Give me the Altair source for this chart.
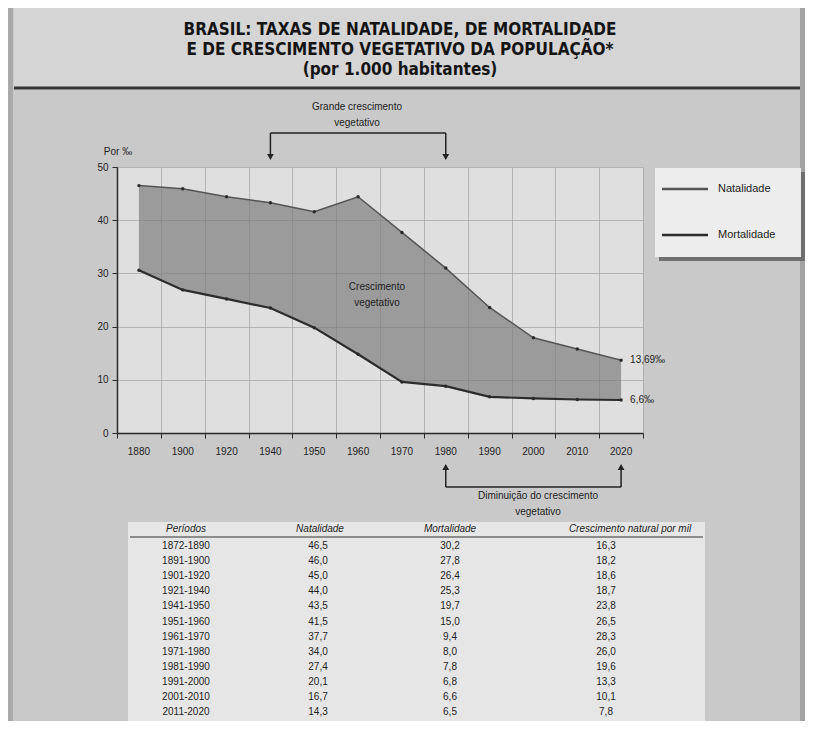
import altair as alt
import pandas as pd

# ---------------- data ----------------
anos = ["1880", "1900", "1920", "1940", "1950", "1960", "1970", "1980", "1990", "2000", "2010", "2020"]
natalidade = [46.5, 45.9, 44.4, 43.3, 41.6, 44.4, 37.7, 31.0, 23.6, 17.9, 15.8, 13.69]
mortalidade = [30.6, 26.9, 25.2, 23.5, 19.8, 14.8, 9.6, 8.8, 6.8, 6.5, 6.3, 6.2]
rotulos_finais = ["13,69‰", "6,6‰"]

titulo = ["BRASIL: TAXAS DE NATALIDADE, DE MORTALIDADE",
          "E DE CRESCIMENTO VEGETATIVO DA POPULAÇÃO*",
          "(por 1.000 habitantes)"]

cabecalho = ["Períodos", "Natalidade", "Mortalidade", "Crescimento natural por mil"]
periodos = ["1872-1890", "1891-1900", "1901-1920", "1921-1940", "1941-1950", "1951-1960",
            "1961-1970", "1971-1980", "1981-1990", "1991-2000", "2001-2010", "2011-2020"]
tab_natalidade = ["46,5", "46,0", "45,0", "44,0", "43,5", "41,5", "37,7", "34,0", "27,4", "20,1", "16,7", "14,3"]
tab_mortalidade = ["30,2", "27,8", "26,4", "25,3", "19,7", "15,0", "9,4", "8,0", "7,8", "6,8", "6,6", "6,5"]
tab_crescimento = ["16,3", "18,2", "18,6", "18,7", "23,8", "26,5", "28,3", "26,0", "19,6", "13,3", "10,1", "7,8"]

# ---------------- layout ----------------
W, H = 526, 266
PAD_L, PAD_T = 109, 159
TOTAL_W, TOTAL_H = 797, 713
FONT = "Liberation Sans"
INK = "#1e1e1e"

n = len(anos)
serie = pd.DataFrame({"i": list(range(n)), "ano": anos, "nat": natalidade, "mort": mortalidade})
longo = pd.DataFrame({
    "i": list(range(n)) * 2,
    "v": natalidade + mortalidade,
    "s": ["Natalidade"] * n + ["Mortalidade"] * n,
})
fim = pd.DataFrame({"i": [n - 1, n - 1], "v": [natalidade[-1], mortalidade[-1]], "t": rotulos_finais})
um = pd.DataFrame({"d": [0]})

xs = alt.Scale(domain=[-0.5, n - 0.5], nice=False, zero=False)
ys = alt.Scale(domain=[0, 50], nice=False, zero=True)
limites = [k - 0.5 for k in range(n + 1)]

x_axis = alt.Axis(values=limites, labels=False, ticks=True, tickSize=5, tickColor="#2a2a2a",
                  domainColor="#2a2a2a", domainWidth=1.5, grid=True, gridColor="#a8a8a8",
                  gridWidth=0.8, title=None)
y_axis = alt.Axis(values=[0, 10, 20, 30, 40, 50], tickSize=5, tickColor="#2a2a2a", labelPadding=4,
                  labelFont=FONT, labelFontSize=10, labelColor=INK, domainColor="#2a2a2a",
                  domainWidth=1.5, grid=True, gridColor="#a8a8a8", gridWidth=0.8, title=None)


def X(field):
    return alt.X(field, scale=xs, axis=x_axis)


def Y(field):
    return alt.Y(field, scale=ys, axis=y_axis)


def rect(x1, x2, y1, y2, color, **kw):
    return alt.Chart(um).mark_rect(color=color, **kw).encode(
        x=alt.value(x1), x2=alt.value(x2), y=alt.value(y1), y2=alt.value(y2))


def rule(x1, x2, y1, y2, color, w=1.0):
    return alt.Chart(um).mark_rule(color=color, strokeWidth=w).encode(
        x=alt.value(x1), x2=alt.value(x2), y=alt.value(y1), y2=alt.value(y2))


def texto(x, y, s, size=10, **kw):
    kw.setdefault("font", FONT)
    kw.setdefault("color", INK)
    return alt.Chart(um).mark_text(fontSize=size, **kw).encode(
        x=alt.value(x), y=alt.value(y), text=alt.value(s))


camadas = []

# area + axes (first, so axes belong to it)
area = alt.Chart(serie).mark_area(color="#7d7d7d", opacity=0.7).encode(
    x=X("i:Q"), y=Y("nat:Q"), y2="mort:Q")
camadas.append(area)

linhas = alt.Chart(longo).mark_line().encode(
    x=X("i:Q"), y=Y("v:Q"),
    color=alt.Color("s:N", scale=alt.Scale(domain=["Natalidade", "Mortalidade"],
                                           range=["#555555", "#2c2c2c"]), legend=None),
    strokeWidth=alt.StrokeWidth("s:N", scale=alt.Scale(domain=["Natalidade", "Mortalidade"],
                                                       range=[1.5, 2.2]), legend=None),
)
camadas.append(linhas)

pontos = alt.Chart(longo).mark_circle(size=12, color="#2a2a2a", opacity=1).encode(
    x=X("i:Q"), y=Y("v:Q"))
camadas.append(pontos)

# year labels
camadas.append(alt.Chart(serie).mark_text(fontSize=10, font=FONT, color=INK).encode(
    x=X("i:Q"), y=alt.value(285), text="ano:N"))

# end labels
camadas.append(alt.Chart(fim).mark_text(fontSize=10, font=FONT, color=INK, align="left", dx=9).encode(
    x=X("i:Q"), y=Y("v:Q"), text="t:N"))

# label inside the area
dentro = pd.DataFrame({"i": [5.43, 5.43], "v": [27.4, 24.4], "t": ["Crescimento", "vegetativo"]})
camadas.append(alt.Chart(dentro).mark_text(fontSize=10, font=FONT, color=INK).encode(
    x=X("i:Q"), y=Y("v:Q"), text="t:N"))

# page decorations
camadas.append(rect(-103, 683, -163, -77, "#d5d5d5"))
camadas.append(rule(-103, 683, -161, -161, "#444444", 1.5))
camadas.append(rule(-103, 683, -79, -79, "#333333", 3))
camadas.append(rect(-109, -104, -159, 560, "#a9a9a9"))
camadas.append(rect(683, 690, -159, 560, "#a2a2a2"))

# title
for k, linha in enumerate(titulo):
    camadas.append(texto(283, -137 + k * 20, linha, size=17, font="DejaVu Sans Condensed",
                         fontWeight="bold", color="#141414"))

# y unit
camadas.append(texto(1, -15, "Por ‰", size=10))

# top bracket: Grande crescimento vegetativo (1940 -> 1980)
topo = pd.DataFrame({"i": [3, 7]})
camadas.append(alt.Chart(pd.DataFrame({"i": [3], "b": [7]})).mark_rule(color="#222222", strokeWidth=1.5).encode(
    x=X("i:Q"), x2="b:Q", y=alt.value(-34)))
camadas.append(alt.Chart(topo).mark_rule(color="#222222", strokeWidth=1.5).encode(
    x=X("i:Q"), y=alt.value(-34), y2=alt.value(-12)))
camadas.append(alt.Chart(topo).mark_point(shape="triangle-down", filled=True, size=45, color="#222222", opacity=1).encode(
    x=X("i:Q"), y=alt.value(-10)))
camadas.append(texto(240, -60, "Grande crescimento", size=10))
camadas.append(texto(240, -44, "vegetativo", size=10))

# bottom bracket: Diminuição do crescimento vegetativo (1980 -> 2020)
baixo = pd.DataFrame({"i": [7, 11]})
camadas.append(alt.Chart(pd.DataFrame({"i": [7], "b": [11]})).mark_rule(color="#222222", strokeWidth=1.5).encode(
    x=X("i:Q"), x2="b:Q", y=alt.value(320)))
camadas.append(alt.Chart(baixo).mark_rule(color="#222222", strokeWidth=1.5).encode(
    x=X("i:Q"), y=alt.value(302), y2=alt.value(320)))
camadas.append(alt.Chart(baixo).mark_point(shape="triangle-up", filled=True, size=45, color="#222222", opacity=1).encode(
    x=X("i:Q"), y=alt.value(300)))
camadas.append(texto(421, 329, "Diminuição do crescimento", size=10))
camadas.append(texto(421, 345, "vegetativo", size=10))

# legend box
camadas.append(rect(542, 688, 5, 94, "#6f6f6f"))
camadas.append(rect(538, 684, 1, 90, "#ededed"))
camadas.append(rule(545, 591, 22, 22, "#555555", 2.5))
camadas.append(rule(545, 591, 68, 68, "#2c2c2c", 2.5))
camadas.append(texto(601, 22, "Natalidade", size=11, align="left"))
camadas.append(texto(601, 68, "Mortalidade", size=11, align="left"))

# table
camadas.append(rect(11, 588, 355, 560, "#e6e6e6"))
col_x = [69, 201, 333, 489]
cab_x = [69, 203, 333, 513]
for c in range(4):
    camadas.append(texto(cab_x[c], 362, cabecalho[c], size=10, fontStyle="italic"))
camadas.append(rule(13, 586, 370, 370, "#333333", 1.2))
for c, coluna in enumerate([periodos, tab_natalidade, tab_mortalidade, tab_crescimento]):
    col_df = pd.DataFrame({"t": coluna, "k": list(range(len(coluna)))})
    camadas.append(alt.Chart(col_df).transform_calculate(py="379 + 15.1 * datum.k").mark_text(
        fontSize=10, font=FONT, color=INK).encode(
        x=alt.value(col_x[c]), y=alt.Y("py:Q", scale=None, axis=None), text="t:N"))

chart = alt.layer(*camadas).properties(
    width=W, height=H,
    padding={"left": PAD_L, "top": PAD_T, "right": TOTAL_W - PAD_L - W, "bottom": TOTAL_H - PAD_T - H},
    autosize=alt.AutoSizeParams(type="none"),
    background="#c9c9c9",
).configure_view(fill="#dfdfdf", stroke=None)

chart.save("out.html", embed_options={"renderer": "svg", "actions": False})
